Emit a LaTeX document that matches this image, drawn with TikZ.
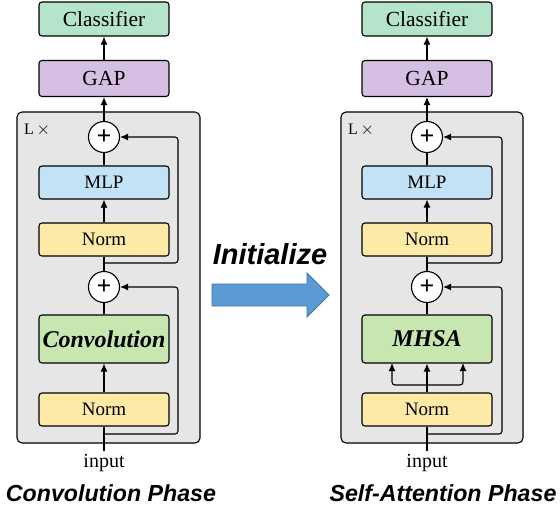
\documentclass[tikz,border=0pt]{standalone}
\usepackage{xcolor}
\usepackage{fontspec}
\setmainfont{Liberation Serif}
\setsansfont{Liberation Sans}
\usepackage{tikz}
\usetikzlibrary{arrows.meta}

\definecolor{clsgreen}{HTML}{B4E5CB}
\definecolor{gaplilac}{HTML}{D5BFE2}
\definecolor{mlpblue}{HTML}{C2E2F5}
\definecolor{normyellow}{HTML}{FCEAA6}
\definecolor{opgreen}{HTML}{C7E6B0}
\definecolor{blockgray}{HTML}{E6E6E6}
\definecolor{initblue}{HTML}{5B9BD5}

\begin{document}
\begin{tikzpicture}[x=1pt,y=-1pt,
	box/.style={draw, line width=1.1pt, rounded corners=3pt, minimum width=130pt, inner sep=0pt},
	sumnode/.style={draw, circle, fill=white, line width=1.1pt, minimum size=31pt, inner sep=0pt, font=\fontsize{26}{26}\bfseries},
	link/.style={line width=1.1pt, -{Latex[length=8pt,width=7pt]}},
	skip/.style={line width=1.1pt, rounded corners=3pt, -{Latex[length=8pt,width=7pt]}},
	bigtxt/.style={font=\fontsize{21.5}{24}\selectfont},
	smalltxt/.style={font=\fontsize{19}{22}\selectfont},
	optxt/.style={font=\fontsize{24}{26}\bfseries\itshape},
	phase/.style={font=\fontsize{23.2}{26}\selectfont\sffamily\bfseries\itshape}]
	\useasboundingbox (0,0) rectangle (560,506);

	% convolution phase
	\draw[fill=blockgray, line width=1.1pt, rounded corners=5pt] (17,112) rectangle (200,443);
	\path (37,130) node (lx) {\fontsize{16}{18}\selectfont L\,$\times$};
	\path (104,19) node[box, fill=clsgreen, minimum height=34pt, bigtxt] (cls) {Classifier};
	\path (104,78.5) node[box, fill=gaplilac, minimum height=36pt, bigtxt] (gap) {GAP};
	\path (104,137) node[sumnode] (plusa) {+};
	\path (104,182.5) node[box, fill=mlpblue, minimum height=33pt, smalltxt] (mlp) {MLP};
	\path (104,239.5) node[box, fill=normyellow, minimum height=33pt, smalltxt] (norma) {Norm};
	\path (104,287) node[sumnode] (plusb) {+};
	\path (104,339) node[box, fill=opgreen, minimum height=48pt, optxt] (conv) {Convolution};
	\path (104,409.5) node[box, fill=normyellow, minimum height=33pt, smalltxt] (normb) {Norm};
	\path (104,463) node[font=\fontsize{20}{22}\selectfont] (input) {input};
	\path (111,493) node[phase] (convphase) {Convolution Phase};
	\coordinate (ja) at (104,263);
	\coordinate (jb) at (104,434);

	\draw[line width=1.1pt] (input.north) -- (normb.south);
	\draw[link] (normb) -- (conv);
	\draw[line width=1.1pt] (conv) -- (plusb);
	\draw[line width=1.1pt] (plusb) -- (norma);
	\draw[link] (norma) -- (mlp);
	\draw[line width=1.1pt] (mlp) -- (plusa);
	\draw[link] (plusa) -- (gap);
	\draw[link] (gap) -- (cls);
	\draw[skip] (ja) -- (178,263) -- (178,137) -- (plusa.east);
	\draw[skip] (jb) -- (178,434) -- (178,287) -- (plusb.east);

	% initialize arrow
	\path (270,254) node[font=\fontsize{29}{30}\selectfont\sffamily\bfseries\itshape] (init) {Initialize};
	\draw[fill=initblue, draw=initblue!75!black, line width=0.8pt] (212,284) -- (307,284) -- (307,273) -- (329,295)
		-- (307,317) -- (307,306) -- (212,306) -- cycle;

	% self-attention phase
	\draw[fill=blockgray, line width=1.1pt, rounded corners=5pt] (341,112) rectangle (523,443);
	\path (361,130) node (lxs) {\fontsize{16}{18}\selectfont L\,$\times$};
	\path (427,19) node[box, fill=clsgreen, minimum height=34pt, bigtxt] (clss) {Classifier};
	\path (427,78.5) node[box, fill=gaplilac, minimum height=36pt, bigtxt] (gaps) {GAP};
	\path (427,137) node[sumnode] (plusas) {+};
	\path (427,182.5) node[box, fill=mlpblue, minimum height=33pt, smalltxt] (mlps) {MLP};
	\path (427,239.5) node[box, fill=normyellow, minimum height=33pt, smalltxt] (normas) {Norm};
	\path (427,287) node[sumnode] (plusbs) {+};
	\path (427,339) node[box, fill=opgreen, minimum height=48pt, optxt] (mhsa) {MHSA};
	\path (427,409.5) node[box, fill=normyellow, minimum height=33pt, smalltxt] (normbs) {Norm};
	\path (427,463) node[font=\fontsize{20}{22}\selectfont] (inputs) {input};
	\path (443,493) node[phase] (saphase) {Self-Attention Phase};
	\coordinate (jas) at (427,263);
	\coordinate (jbs) at (427,434);
	\coordinate (fork) at (427,385);

	\draw[line width=1.1pt] (inputs.north) -- (normbs.south);
	\draw[link] (normbs) -- (mhsa);
	\draw[link, rounded corners=3pt] (fork) -- (392,385) -- (392,363);
	\draw[link, rounded corners=3pt] (fork) -- (463,385) -- (463,363);
	\draw[line width=1.1pt] (mhsa) -- (plusbs);
	\draw[line width=1.1pt] (plusbs) -- (normas);
	\draw[link] (normas) -- (mlps);
	\draw[line width=1.1pt] (mlps) -- (plusas);
	\draw[link] (plusas) -- (gaps);
	\draw[link] (gaps) -- (clss);
	\draw[skip] (jas) -- (502,263) -- (502,137) -- (plusas.east);
	\draw[skip] (jbs) -- (502,434) -- (502,287) -- (plusbs.east);
\end{tikzpicture}
\end{document}
